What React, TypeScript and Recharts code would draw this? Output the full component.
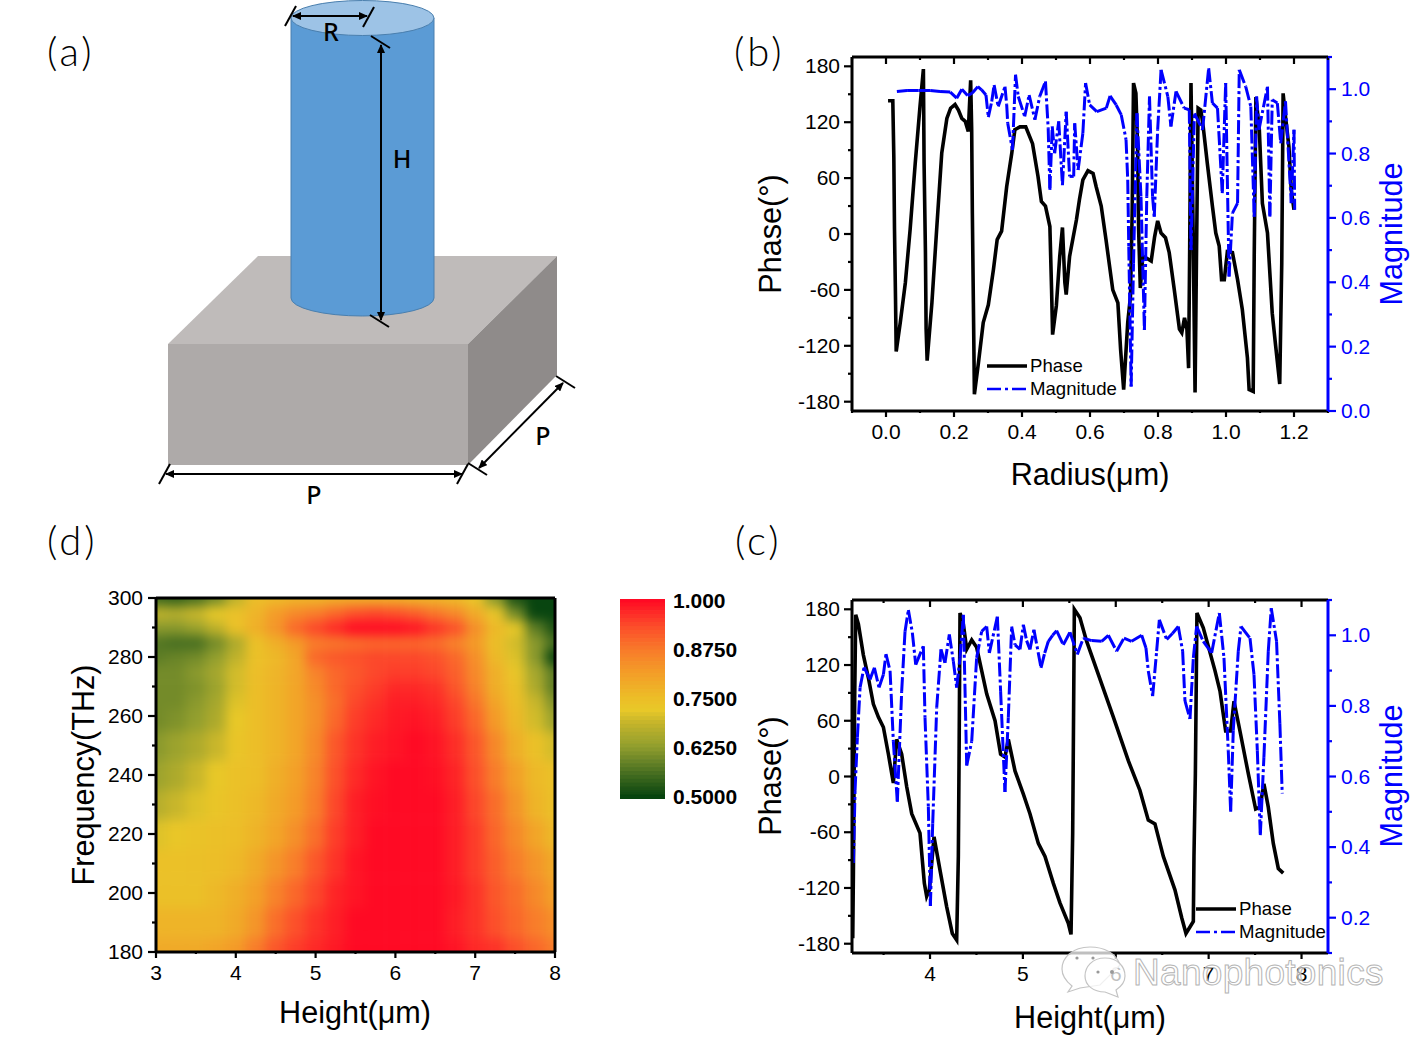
import { BarChart, Bar, Cell, LineChart, Line, ScatterChart, Scatter, XAxis, YAxis } from 'recharts'

// panel b: phase and magnitude against radius
const radiusPhaseX = [0.006, 0.02, 0.023, 0.025, 0.028, 0.03, 0.042, 0.057, 0.071, 0.086, 0.1, 0.11, 0.112, 0.116, 0.118, 0.121, 0.135, 0.149, 0.164, 0.179, 0.19, 0.203, 0.213, 0.223, 0.233, 0.242, 0.249, 0.252, 0.254, 0.257, 0.26, 0.272, 0.286, 0.301, 0.316, 0.327, 0.34, 0.355, 0.37, 0.379, 0.394, 0.411, 0.431, 0.447, 0.457, 0.469, 0.482, 0.487, 0.49, 0.501, 0.511, 0.519, 0.526, 0.53, 0.54, 0.56, 0.569, 0.579, 0.594, 0.609, 0.618, 0.633, 0.647, 0.667, 0.682, 0.69, 0.699, 0.711, 0.719, 0.724, 0.728, 0.735, 0.74, 0.743, 0.748, 0.755, 0.767, 0.78, 0.79, 0.799, 0.809, 0.822, 0.833, 0.848, 0.863, 0.87, 0.878, 0.885, 0.89, 0.893, 0.897, 0.902, 0.909, 0.913, 0.918, 0.926, 0.933, 0.945, 0.96, 0.97, 0.98, 0.987, 0.995, 1.004, 1.019, 1.034, 1.048, 1.063, 1.068, 1.08, 1.083, 1.088, 1.098, 1.107, 1.122, 1.136, 1.146, 1.158, 1.164, 1.168, 1.175, 1.185, 1.192, 1.2]
const radiusPhase = [143, 143, 83, 5, -70, -126, -95, -52, 5, 76, 137, 177, 76, -20, -102, -136, -74, 5, 87, 124, 135, 139, 133, 124, 121, 110, 165, 112, 22, -74, -172, -138, -95, -76, -38, -6, 3, 51, 87, 112, 115, 115, 97, 62, 35, 30, 8, -60, -108, -77, -24, 7, -52, -65, -24, 15, 37, 58, 68, 65, 51, 30, -6, -60, -74, -124, -167, -95, -67, 22, 162, 151, 94, 5, -58, -24, -26, -29, -3, 14, 1, -4, -20, -60, -102, -106, -90, -102, -144, -24, 162, 40, -170, -30, 135, 133, 115, 76, 30, 1, -13, -49, -49, -19, -20, -49, -81, -133, -167, -169, -24, 147, 112, 33, 1, -85, -120, -161, -31, 151, 126, 94, 47, 26]
const radiusMagX = [0.032, 0.062, 0.096, 0.13, 0.159, 0.189, 0.208, 0.223, 0.24, 0.254, 0.27, 0.281, 0.294, 0.301, 0.311, 0.318, 0.33, 0.35, 0.355, 0.358, 0.372, 0.381, 0.389, 0.408, 0.421, 0.438, 0.452, 0.469, 0.477, 0.482, 0.489, 0.496, 0.508, 0.519, 0.53, 0.54, 0.552, 0.555, 0.565, 0.579, 0.587, 0.599, 0.62, 0.648, 0.659, 0.677, 0.692, 0.706, 0.711, 0.714, 0.721, 0.728, 0.738, 0.75, 0.76, 0.767, 0.775, 0.784, 0.789, 0.799, 0.809, 0.829, 0.838, 0.853, 0.877, 0.892, 0.897, 0.907, 0.931, 0.949, 0.96, 0.975, 0.989, 0.999, 1.009, 1.019, 1.034, 1.039, 1.058, 1.073, 1.083, 1.09, 1.097, 1.122, 1.129, 1.136, 1.151, 1.161, 1.175, 1.192, 1.2, 1.202]
const radiusMag = [0.993, 0.996, 0.996, 0.996, 0.993, 0.991, 0.972, 1.0, 0.98, 0.988, 1.008, 0.998, 0.982, 0.913, 0.962, 1.013, 0.946, 1.008, 0.951, 0.894, 0.811, 1.045, 0.977, 0.915, 0.982, 0.905, 0.977, 1.024, 0.879, 0.687, 0.884, 0.801, 0.9, 0.702, 0.93, 0.729, 0.729, 0.894, 0.749, 0.863, 1.019, 0.951, 0.93, 0.941, 0.979, 0.951, 0.92, 0.843, 0.718, 0.511, 0.076, 0.459, 0.925, 0.666, 0.252, 0.666, 0.977, 0.666, 0.604, 0.874, 1.06, 0.977, 0.884, 0.993, 0.941, 0.936, 0.5, 0.925, 0.874, 1.065, 0.957, 0.941, 0.677, 1.019, 0.418, 0.615, 0.646, 1.06, 1.008, 0.946, 0.604, 0.977, 0.874, 1.008, 0.604, 0.967, 0.957, 0.832, 0.962, 0.646, 0.874, 0.625]

// panel c: phase and magnitude against height
const heightPhaseX = [3.168, 3.175, 3.189, 3.2, 3.229, 3.282, 3.337, 3.39, 3.444, 3.498, 3.552, 3.605, 3.641, 3.695, 3.749, 3.803, 3.892, 3.939, 3.964, 3.993, 4.043, 4.108, 4.179, 4.24, 4.287, 4.305, 4.312, 4.323, 4.359, 4.395, 4.449, 4.502, 4.556, 4.61, 4.7, 4.76, 4.807, 4.843, 4.915, 5.005, 5.076, 5.166, 5.238, 5.328, 5.399, 5.489, 5.518, 5.536, 5.543, 5.554, 5.614, 5.685, 5.812, 5.974, 6.135, 6.26, 6.35, 6.422, 6.512, 6.637, 6.71, 6.756, 6.835, 6.842, 6.857, 6.874, 6.942, 7.068, 7.122, 7.183, 7.237, 7.273, 7.337, 7.427, 7.506, 7.552, 7.595, 7.642, 7.696, 7.75, 7.803]
const heightPhase = [-174, -104, 85, 174, 164, 131, 106, 78, 64, 53, 24, -7, 40, 24, -11, -40, -61, -115, -129, -122, -65, -101, -140, -169, -176, -86, 10, 176, 164, 137, 147, 139, 114, 89, 60, 24, 21, 40, 6, -19, -40, -72, -86, -115, -136, -158, -170, -61, 31, 180, 171, 146, 110, 64, 17, -15, -47, -51, -86, -122, -152, -169, -156, -86, 3, 176, 160, 114, 92, 49, 49, 81, 49, 3, -35, -33, -8, -33, -72, -99, -104]
const heightMagX = [3.175, 3.193, 3.218, 3.247, 3.29, 3.354, 3.401, 3.451, 3.498, 3.526, 3.57, 3.605, 3.648, 3.695, 3.731, 3.767, 3.81, 3.846, 3.928, 3.946, 3.982, 4.004, 4.029, 4.072, 4.118, 4.161, 4.208, 4.251, 4.287, 4.323, 4.359, 4.395, 4.449, 4.502, 4.556, 4.61, 4.639, 4.725, 4.76, 4.807, 4.843, 4.879, 4.915, 4.969, 5.005, 5.04, 5.076, 5.119, 5.195, 5.235, 5.274, 5.32, 5.363, 5.435, 5.507, 5.586, 5.65, 5.74, 5.848, 5.92, 6.009, 6.088, 6.17, 6.279, 6.325, 6.35, 6.397, 6.44, 6.469, 6.548, 6.61, 6.673, 6.72, 6.745, 6.799, 6.835, 6.871, 6.942, 7.032, 7.115, 7.165, 7.211, 7.237, 7.265, 7.319, 7.348, 7.445, 7.488, 7.524, 7.556, 7.595, 7.642, 7.674, 7.731, 7.767, 7.792]
const heightMag = [0.355, 0.561, 0.711, 0.852, 0.91, 0.875, 0.908, 0.852, 0.889, 0.947, 0.899, 0.7, 0.528, 0.842, 1.011, 1.072, 1.007, 0.917, 0.969, 0.767, 0.514, 0.233, 0.467, 0.795, 0.96, 0.922, 1.002, 0.927, 0.852, 0.936, 1.058, 0.631, 0.7, 0.936, 1.011, 1.025, 0.95, 1.053, 0.842, 0.556, 0.767, 1.025, 0.973, 0.96, 1.03, 0.985, 0.96, 1.016, 0.908, 0.95, 0.983, 1.0, 1.013, 0.973, 1.009, 0.946, 0.992, 0.985, 0.983, 1.0, 0.955, 0.992, 0.983, 1.0, 0.964, 0.899, 0.828, 0.955, 1.044, 0.988, 1.005, 1.025, 0.955, 0.814, 0.763, 0.936, 1.025, 0.983, 0.95, 1.063, 0.936, 0.674, 0.5, 0.73, 0.955, 1.025, 0.992, 0.889, 0.674, 0.434, 0.655, 0.955, 1.077, 0.983, 0.749, 0.552]

// panel d: transmission map, one list per frequency
const mapHeights = [3, 3.25, 3.5, 3.75, 4, 4.25, 4.5, 4.75, 5, 5.25, 5.5, 5.75, 6, 6.25, 6.5, 6.75, 7, 7.25, 7.5, 7.75, 8]
const mapFreqs = [180, 190, 200, 210, 220, 230, 240, 250, 260, 265, 270, 275, 280, 285, 290, 295, 300]
const f180 = [0.79, 0.79, 0.79, 0.8, 0.82, 0.87, 0.92, 0.95, 0.97, 0.985, 1, 1, 1, 1, 1, 0.99, 0.97, 0.96, 0.93, 0.9, 0.87]
const f190 = [0.77, 0.77, 0.77, 0.77, 0.79, 0.83, 0.89, 0.93, 0.96, 0.98, 1, 1, 1, 1, 1, 0.98, 0.96, 0.93, 0.9, 0.87, 0.84]
const f200 = [0.745, 0.745, 0.745, 0.76, 0.78, 0.81, 0.86, 0.9, 0.94, 0.975, 0.99, 1, 1, 1, 1, 0.985, 0.96, 0.92, 0.89, 0.85, 0.81]
const f210 = [0.74, 0.74, 0.745, 0.75, 0.76, 0.79, 0.83, 0.87, 0.92, 0.96, 0.99, 1, 1, 1, 1, 0.98, 0.95, 0.91, 0.87, 0.83, 0.79]
const f220 = [0.71, 0.725, 0.735, 0.745, 0.75, 0.77, 0.8, 0.84, 0.89, 0.95, 0.98, 1, 1, 1, 1, 0.98, 0.95, 0.9, 0.85, 0.8, 0.76]
const f230 = [0.67, 0.69, 0.71, 0.73, 0.745, 0.76, 0.79, 0.82, 0.87, 0.94, 0.98, 0.995, 1, 1, 1, 0.98, 0.94, 0.89, 0.83, 0.77, 0.745]
const f240 = [0.64, 0.66, 0.69, 0.72, 0.74, 0.75, 0.78, 0.81, 0.86, 0.93, 0.97, 0.99, 1, 1, 0.995, 0.975, 0.93, 0.87, 0.81, 0.76, 0.74]
const f250 = [0.62, 0.64, 0.66, 0.69, 0.73, 0.75, 0.77, 0.8, 0.85, 0.92, 0.96, 0.98, 0.99, 1, 0.99, 0.965, 0.92, 0.85, 0.78, 0.74, 0.7]
const f260 = [0.6, 0.61, 0.63, 0.66, 0.72, 0.75, 0.77, 0.8, 0.84, 0.9, 0.95, 0.97, 0.985, 0.99, 0.98, 0.95, 0.9, 0.82, 0.76, 0.7, 0.64]
const f265 = [0.6, 0.6, 0.62, 0.65, 0.71, 0.75, 0.77, 0.8, 0.84, 0.89, 0.94, 0.96, 0.98, 0.98, 0.97, 0.94, 0.88, 0.8, 0.75, 0.69, 0.61]
const f270 = [0.6, 0.6, 0.61, 0.64, 0.7, 0.75, 0.77, 0.8, 0.85, 0.9, 0.93, 0.95, 0.97, 0.97, 0.96, 0.92, 0.86, 0.78, 0.74, 0.66, 0.58]
const f275 = [0.6, 0.6, 0.62, 0.65, 0.7, 0.75, 0.77, 0.8, 0.86, 0.9, 0.92, 0.94, 0.95, 0.95, 0.94, 0.91, 0.85, 0.78, 0.73, 0.65, 0.58]
const f280 = [0.58, 0.59, 0.6, 0.63, 0.68, 0.74, 0.76, 0.8, 0.9, 0.92, 0.93, 0.94, 0.94, 0.94, 0.93, 0.9, 0.84, 0.76, 0.71, 0.62, 0.5]
const f285 = [0.57, 0.56, 0.56, 0.6, 0.66, 0.74, 0.78, 0.82, 0.87, 0.88, 0.89, 0.9, 0.9, 0.9, 0.89, 0.86, 0.82, 0.75, 0.7, 0.62, 0.56]
const f290 = [0.62, 0.62, 0.64, 0.68, 0.74, 0.78, 0.83, 0.9, 0.94, 0.97, 1, 1, 1, 0.99, 0.96, 0.93, 0.84, 0.76, 0.72, 0.58, 0.52]
const f295 = [0.68, 0.67, 0.69, 0.72, 0.74, 0.77, 0.82, 0.85, 0.87, 0.9, 0.93, 0.94, 0.93, 0.91, 0.88, 0.85, 0.79, 0.73, 0.6, 0.5, 0.5]
const f300 = [0.55, 0.54, 0.56, 0.6, 0.68, 0.75, 0.76, 0.77, 0.77, 0.78, 0.78, 0.78, 0.78, 0.77, 0.77, 0.76, 0.73, 0.62, 0.52, 0.5, 0.5]
const mapRows = [f180, f190, f200, f210, f220, f230, f240, f250, f260, f265, f270, f275, f280, f285, f290, f295, f300]

const scaleLevels = [1, 0.99, 0.98, 0.97, 0.96, 0.95, 0.94, 0.93, 0.92, 0.91, 0.9, 0.89, 0.88, 0.87, 0.86, 0.85, 0.84, 0.83, 0.82, 0.81, 0.8, 0.79, 0.78, 0.77, 0.76, 0.75, 0.74, 0.73, 0.72, 0.71, 0.7, 0.69, 0.68, 0.67, 0.66, 0.65, 0.64, 0.63, 0.62, 0.61, 0.6, 0.59, 0.58, 0.57, 0.56, 0.55, 0.54, 0.53, 0.52, 0.51, 0.5]
const scaleLabels = ['1.000', '0.8750', '0.7500', '0.6250', '0.5000']

// tick lists, minor ticks included
const phaseTicks = [-180, -150, -120, -90, -60, -30, 0, 30, 60, 90, 120, 150, 180]
const radiusTicks = [-0.1, 0, 0.1, 0.2, 0.3, 0.4, 0.5, 0.6, 0.7, 0.8, 0.9, 1, 1.1, 1.2, 1.3]
const magTicksB = [0, 0.1, 0.2, 0.3, 0.4, 0.5, 0.6, 0.7, 0.8, 0.9, 1, 1.1]
const magTicksC = [0.1, 0.2, 0.3, 0.4, 0.5, 0.6, 0.7, 0.8, 0.9, 1, 1.1]
const heightTicksC = [3.5, 4, 4.5, 5, 5.5, 6, 6.5, 7, 7.5, 8]
const heightTicksD = [3, 3.5, 4, 4.5, 5, 5.5, 6, 6.5, 7, 7.5, 8]
const freqTicks = [180, 190, 200, 210, 220, 230, 240, 250, 260, 270, 280, 290, 300]
const mapCorners = [{ x: 3, y: 180 }, { x: 8, y: 300 }]

const SANS = '"Liberation Sans", Arial, sans-serif'
const BLUE = '#0000ff'

const colorStops: [number, number[]][] = [
  [0.5, [7, 68, 15]],
  [0.5625, [75, 113, 34]],
  [0.625, [143, 157, 46]],
  [0.6875, [197, 181, 43]],
  [0.72, [232, 200, 40]],
  [0.75, [236, 190, 40]],
  [0.8125, [243, 159, 40]],
  [0.875, [248, 122, 42]],
  [0.9375, [252, 74, 42]],
  [1, [255, 10, 36]],
]

function colorOf(v: number) {
  for (let i = 1; i < colorStops.length; i++) {
    const [v1, c1] = colorStops[i]
    const [v0, c0] = colorStops[i - 1]
    if (v <= v1) {
      const t = Math.max(0, (v - v0) / (v1 - v0))
      return `rgb(${c0.map((c, k) => Math.round(c + (c1[k] - c) * t)).join(',')})`
    }
  }
  return 'rgb(255,10,36)'
}

const zip = (xs: number[], ys: number[]) => xs.map((x, i) => ({ x, y: ys[i] }))

const heatCells = mapRows.flatMap((row, r) =>
  row.map((v, c) => ({
    x: mapHeights[c],
    y: mapFreqs[r],
    v,
    lo: r === 0 ? 140 : (mapFreqs[r - 1] + mapFreqs[r]) / 2,
    hi: r === mapFreqs.length - 1 ? 340 : (mapFreqs[r + 1] + mapFreqs[r]) / 2,
  }))
)

// Origin style ticks: long on labelled values, short between them
function originTick(side: 'left' | 'right' | 'bottom' | 'top', isMajor: (v: number) => boolean, fmt: ((v: number) => string) | null, color = '#000', gap = 0) {
  return (p: any) => {
    const { x, y, payload } = p
    const major = isMajor(payload.value)
    const len = major ? 8 : 4
    const label = major && fmt ? fmt(payload.value) : null
    const common = { fill: color, fontSize: 21, fontFamily: SANS }
    if (side === 'left')
      return (
        <g>
          <line x1={x} x2={x - len} y1={y} y2={y} stroke={color} strokeWidth={2.2} />
          {label && <text x={x - 12 - gap} y={y + 7} textAnchor="end" {...common}>{label}</text>}
        </g>
      )
    if (side === 'right')
      return (
        <g>
          <line x1={x} x2={x + len} y1={y} y2={y} stroke={color} strokeWidth={2.2} />
          {label && <text x={x + 13} y={y + 7} {...common}>{label}</text>}
        </g>
      )
    if (side === 'top')
      return <line x1={x} x2={x} y1={y} y2={y + len - 1} stroke={color} strokeWidth={2.2} />
    return (
      <g>
        <line x1={x} x2={x} y1={y} y2={y + len - 2} stroke={color} strokeWidth={2.2} />
        {label && <text x={x} y={y + 28} textAnchor="middle" {...common}>{label}</text>}
      </g>
    )
  }
}

const near = (v: number, step: number) => Math.abs(v / step - Math.round(v / step)) < 1e-6

function PhaseChart(props: {
  top: number
  height: number
  xDomain: number[]
  xTicks: number[]
  xMajor: (v: number) => boolean
  xFmt: (v: number) => string
  magDomain: number[]
  magTicks: number[]
  phase: { x: number; y: number }[]
  mag: { x: number; y: number }[]
}) {
  const { top, height, xDomain, xTicks, xMajor, xFmt, magDomain, magTicks, phase, mag } = props
  const blackAxis = { stroke: '#000', strokeWidth: 3 }
  const blueAxis = { stroke: BLUE, strokeWidth: 3 }
  return (
    <div style={{ position: 'absolute', left: 780, top: top - 20 }}>
      <LineChart width={640} height={height + 60} margin={{ top: 19, right: 0, bottom: 0, left: 0 }}>
        <XAxis xAxisId="b" type="number" dataKey="x" domain={xDomain} ticks={xTicks} interval={0} allowDataOverflow height={40} tickSize={0} tickMargin={0} tickLine={false} axisLine={blackAxis} tick={originTick('bottom', xMajor, xFmt)} />
        <XAxis xAxisId="t" orientation="top" type="number" dataKey="x" domain={xDomain} ticks={xTicks} interval={0} allowDataOverflow height={1} tickSize={0} tickMargin={0} tickLine={false} axisLine={blackAxis} tick={originTick('top', xMajor, null)} />
        <YAxis yAxisId="p" type="number" domain={[-190, 190]} ticks={phaseTicks} interval={0} allowDataOverflow width={72} tickSize={0} tickMargin={0} tickLine={false} axisLine={blackAxis} tick={originTick('left', (v) => near(v, 60), (v) => String(v))} />
        <YAxis yAxisId="m" orientation="right" type="number" domain={magDomain} ticks={magTicks} interval={0} allowDataOverflow width={92} tickSize={0} tickMargin={0} tickLine={false} axisLine={blueAxis} tick={originTick('right', (v) => near(v, 0.2), (v) => v.toFixed(1), BLUE)} />
        {/* carries the top axis only */}
        <Line xAxisId="t" yAxisId="p" data={phase} dataKey="y" stroke="none" dot={false} isAnimationActive={false} legendType="none" />
        <Line xAxisId="b" yAxisId="p" data={phase} dataKey="y" stroke="#000" strokeWidth={3.6} dot={false} isAnimationActive={false} legendType="none" />
        {/* Origin restarts the dash pattern on each data segment, so short steps look solid */}
        {mag.slice(0, -1).map((p, i) => (
          <Line key={i} xAxisId="b" yAxisId="m" data={[p, mag[i + 1]]} dataKey="y" stroke={BLUE} strokeWidth={3} strokeDasharray="14 3 3 3" dot={false} isAnimationActive={false} legendType="none" />
        ))}
      </LineChart>
    </div>
  )
}

function Key({ left, top }: { left: number; top: number }) {
  return (
    <svg style={{ position: 'absolute', left, top, overflow: 'visible' }} width={140} height={50}>
      <line x1={0} x2={40} y1={8} y2={8} stroke="#000" strokeWidth={3.3} />
      <line x1={0} x2={40} y1={31} y2={31} stroke={BLUE} strokeWidth={2.6} strokeDasharray="14 4 3 4 14" />
      <text x={43} y={14} fontSize={18.6} fontFamily={SANS}>Phase</text>
      <text x={43} y={37} fontSize={18.6} fontFamily={SANS}>Magnitude</text>
    </svg>
  )
}

function HeatCell(p: any) {
  const { cx, cy, payload } = p
  const pxPerHeight = 399 / 5
  const pxPerFreq = 354 / 120
  const w = 0.25 * pxPerHeight
  const left = payload.x === 3 ? cx - 50 : cx - w / 2
  const right = payload.x === 8 ? cx + 50 : cx + w / 2
  const t = cy - (payload.hi - payload.y) * pxPerFreq
  const b = cy + (payload.y - payload.lo) * pxPerFreq
  return <rect x={left} y={t} width={right - left + 0.5} height={b - t + 0.5} fill={colorOf(payload.v)} />
}

function HeatMap() {
  const blackAxis = { stroke: '#000', strokeWidth: 3 }
  return (
    <>
      <div style={{ position: 'absolute', left: 156, top: 598, width: 399, height: 354, overflow: 'hidden' }}>
        <div style={{ position: 'absolute', left: -40, top: -40, filter: 'blur(6px)' }}>
          <ScatterChart width={479} height={434} margin={{ top: 40, right: 40, bottom: 40, left: 40 }}>
            <XAxis type="number" dataKey="x" domain={[3, 8]} hide />
            <YAxis type="number" dataKey="y" domain={[180, 300]} hide />
            <Scatter data={heatCells} shape={HeatCell} isAnimationActive={false} />
          </ScatterChart>
        </div>
      </div>
      <div style={{ position: 'absolute', left: 66, top: 578 }}>
        <LineChart width={530} height={414} margin={{ top: 19, right: 40, bottom: 0, left: 0 }}>
          <XAxis xAxisId="b" type="number" dataKey="x" domain={[3, 8]} ticks={heightTicksD} interval={0} allowDataOverflow height={40} tickSize={0} tickMargin={0} tickLine={false} axisLine={blackAxis} tick={originTick('bottom', (v) => near(v, 1), (v) => String(v))} />
          <XAxis xAxisId="t" orientation="top" type="number" dataKey="x" domain={[3, 8]} allowDataOverflow height={1} tick={false} tickLine={false} axisLine={blackAxis} />
          <YAxis yAxisId="l" type="number" domain={[180, 300]} ticks={freqTicks} interval={0} allowDataOverflow width={90} tickSize={0} tickMargin={0} tickLine={false} axisLine={blackAxis} tick={originTick('left', (v) => near(v, 20), (v) => String(v), '#000', 1)} />
          <YAxis yAxisId="r" orientation="right" type="number" domain={[180, 300]} allowDataOverflow width={1} tick={false} tickLine={false} axisLine={blackAxis} />
          <Line xAxisId="b" yAxisId="l" data={mapCorners} dataKey="y" stroke="none" dot={false} isAnimationActive={false} />
          <Line xAxisId="t" yAxisId="r" data={mapCorners} dataKey="y" stroke="none" dot={false} isAnimationActive={false} />
        </LineChart>
      </div>
    </>
  )
}

function ColorScale() {
  const data = scaleLevels.map((v) => ({ level: v, full: 1 }))
  return (
    <div style={{ position: 'absolute', left: 620, top: 599 }}>
      <BarChart layout="vertical" width={45} height={200} data={data} margin={{ top: 0, right: 0, bottom: 0, left: 0 }} barCategoryGap={0}>
        <XAxis type="number" domain={[0, 1]} hide />
        <YAxis type="category" dataKey="level" hide />
        <Bar dataKey="full" isAnimationActive={false}>
          {data.map((d) => (
            <Cell key={d.level} fill={colorOf(d.level)} stroke={colorOf(d.level)} strokeWidth={1} />
          ))}
        </Bar>
      </BarChart>
    </div>
  )
}

function Schematic() {
  const arrow = 'url(#arrowHead)'
  return (
    <svg style={{ position: 'absolute', left: 0, top: 0 }} width={600} height={520}>
      <defs>
        <marker id="arrowHead" markerWidth="9" markerHeight="8" refX="8" refY="4" orient="auto-start-reverse" markerUnits="userSpaceOnUse">
          <path d="M0,0 L9,4 L0,8 Z" fill="#000" />
        </marker>
      </defs>
      <polygon points="258,256 557,256 468,344 168,344" fill="#bfbbba" />
      <polygon points="168,344 468,344 468,465 168,465" fill="#aeaaa9" />
      <polygon points="468,344 557,256 557,375 468,465" fill="#8f8b8a" />
      <path d="M291,18 L291,298 A71.5,18 0 0 0 434,298 L434,18 Z" fill="#5b9bd5" stroke="#4a7fae" strokeWidth={1} />
      <ellipse cx={362.5} cy={18} rx={71.5} ry={17.5} fill="#9dc3e6" stroke="#4a7fae" strokeWidth={1} />
      <g stroke="#000" strokeWidth={2} fill="none">
        <line x1={293} x2={367} y1={16} y2={16} markerStart={arrow} markerEnd={arrow} />
        <line x1={285} y1={26} x2={296} y2={6} />
        <line x1={363} y1={27} x2={374} y2={7} />
        <line x1={381} x2={381} y1={45} y2={320} markerStart={arrow} markerEnd={arrow} />
        <line x1={371} y1={36} x2={390} y2={48} />
        <line x1={370} y1={315} x2={389} y2={327} />
        <line x1={166} x2={462} y1={474} y2={474} markerStart={arrow} markerEnd={arrow} />
        <line x1={159} y1={484} x2={170} y2={464} />
        <line x1={457} y1={484} x2={468} y2={464} />
        <line x1={479} y1={468} x2={563} y2={383} markerStart={arrow} markerEnd={arrow} />
        <line x1={468} y1={463} x2={487} y2={475} />
        <line x1={556} y1={376} x2={575} y2={388} />
      </g>
      <g fontFamily='"Noto Sans", sans-serif' fontWeight={500} fontSize={25} textAnchor="middle">
        <text x={331} y={41}>R</text>
        <text x={402} y={168}>H</text>
        <text x={314} y={504}>P</text>
        <text x={543} y={445}>P</text>
      </g>
    </svg>
  )
}

function Labels() {
  const title = { fontFamily: SANS, fontSize: 30.6, textAnchor: 'middle' as const }
  const panel = { fontFamily: 'Lato, sans-serif', fontSize: 40, fontWeight: 300, letterSpacing: 3 }
  const scaleY = [608, 657, 706, 755, 804]
  return (
    <svg style={{ position: 'absolute', left: 0, top: 0, pointerEvents: 'none' }} width={1428} height={1038}>
      <text x={47} y={66} {...panel}>(a)</text>
      <text x={734} y={66} {...panel}>(b)</text>
      <text x={47} y={555} {...panel}>(d)</text>
      <text x={735} y={555} {...panel}>(c)</text>
      <text x={1090} y={485} {...title}>Radius(μm)</text>
      <text x={1090} y={1028} {...title}>Height(μm)</text>
      <text x={355} y={1023} {...title}>Height(μm)</text>
      <text transform="translate(781,234) rotate(-90)" {...title}>Phase(°)</text>
      <text transform="translate(781,776) rotate(-90)" {...title}>Phase(°)</text>
      <text transform="translate(94,775) rotate(-90)" {...title}>Frequency(THz)</text>
      <text transform="translate(1402,234) rotate(-90)" {...title} fill={BLUE}>Magnitude</text>
      <text transform="translate(1402,776) rotate(-90)" {...title} fill={BLUE}>Magnitude</text>
      {scaleLabels.map((s, i) => (
        <text key={s} x={673} y={scaleY[i]} fontFamily={SANS} fontWeight={700} fontSize={21}>{s}</text>
      ))}
      {/* watermark */}
      <g fill="#fff" fillOpacity={0.75} stroke="#c4c4c4" strokeWidth={1.2}>
        <path d="M1090,947 C1072,947 1062,958 1062,969 C1062,977 1067,982 1072,986 L1068,992 L1080,988 L1100,985 L1120,965 C1116,953 1104,947 1090,947 Z" />
        <path d="M1105,958 C1092,958 1085,967 1085,976 C1085,985 1093,992 1105,992 L1118,997 L1116,990 C1122,986 1125,981 1125,976 C1125,966 1117,958 1105,958 Z" />
      </g>
      <g fill="#999">
        <circle cx={1077} cy={958} r={1.6} />
        <circle cx={1093} cy={958} r={1.6} />
        <circle cx={1098} cy={972} r={1.6} />
        <circle cx={1112} cy={972} r={2} />
      </g>
      <text x={1133} y={985} fontFamily={SANS} fontSize={37} letterSpacing={0.3} fill="#fff" fillOpacity={0.65} stroke="#b4b4b4" strokeWidth={1}>Nanophotonics</text>
    </svg>
  )
}

export default function App() {
  return (
    <div style={{ position: 'absolute', left: 0, top: 0, width: 1428, height: 1038, background: '#fff', overflow: 'hidden' }}>
      <Schematic />
      <PhaseChart top={57} height={354} xDomain={[-0.1, 1.3]} xTicks={radiusTicks} xMajor={(v) => near(v, 0.2)} xFmt={(v) => v.toFixed(1)} magDomain={[0, 1.1]} magTicks={magTicksB} phase={zip(radiusPhaseX, radiusPhase)} mag={zip(radiusMagX, radiusMag)} />
      <PhaseChart top={600} height={353} xDomain={[3.16, 8.285]} xTicks={heightTicksC} xMajor={(v) => near(v, 1)} xFmt={(v) => String(v)} magDomain={[0.1, 1.1]} magTicks={magTicksC} phase={zip(heightPhaseX, heightPhase)} mag={zip(heightMagX, heightMag)} />
      <Key left={987} top={358} />
      <Key left={1196} top={901} />
      <HeatMap />
      <ColorScale />
      <Labels />
    </div>
  )
}
